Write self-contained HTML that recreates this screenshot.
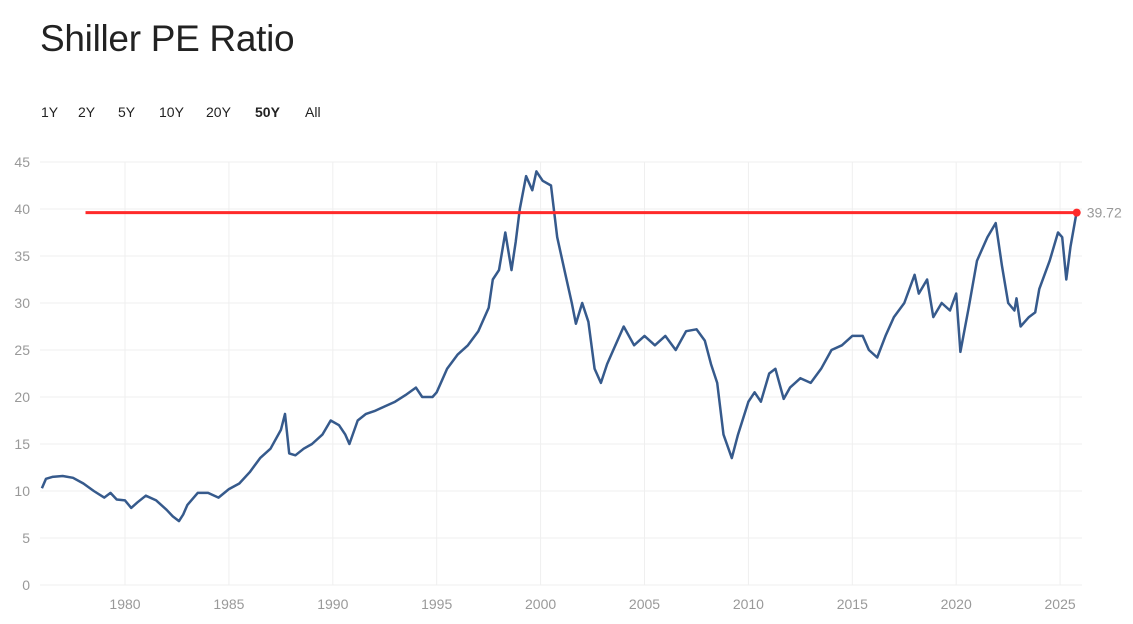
<!DOCTYPE html>
<html><head><meta charset="utf-8">
<style>
body{margin:0;background:#fff;width:1133px;height:624px;overflow:hidden;font-family:"Liberation Sans",sans-serif;}
#title{position:absolute;left:40px;top:18px;font-size:37px;color:#222;letter-spacing:-0.3px;}
#ranges{position:absolute;left:41px;top:104px;font-size:14px;color:#222;}
#ranges span{position:absolute;top:0;cursor:pointer;white-space:nowrap}
#ranges .act{font-weight:bold}
svg{position:absolute;left:0;top:0}
</style></head><body>
<div id="title">Shiller PE Ratio</div>
<div id="ranges">
<span style="left:0">1Y</span><span style="left:37px">2Y</span><span style="left:77px">5Y</span><span style="left:118px">10Y</span><span style="left:165px">20Y</span><span class="act" style="left:214px">50Y</span><span style="left:264px">All</span>
</div>
<svg id="chart" width="1133" height="624"></svg>
<script>
const years=[1976.0,1976.2,1976.5,1977,1977.5,1978,1978.5,1979,1979.3,1979.6,1980,1980.3,1980.6,1981,1981.5,1982,1982.3,1982.6,1982.8,1983,1983.5,1984,1984.5,1985,1985.5,1986,1986.5,1987,1987.5,1987.7,1987.9,1988.2,1988.6,1989,1989.5,1989.9,1990.3,1990.6,1990.8,1991.2,1991.6,1992,1992.5,1993,1993.5,1994,1994.3,1994.8,1995,1995.5,1996,1996.5,1997,1997.5,1997.7,1998,1998.3,1998.6,1998.8,1999,1999.3,1999.6,1999.8,2000.1,2000.5,2000.8,2001.2,2001.5,2001.7,2002,2002.3,2002.6,2002.9,2003.2,2003.5,2004,2004.5,2005,2005.5,2006,2006.5,2007,2007.5,2007.9,2008.2,2008.5,2008.8,2009.2,2009.5,2010,2010.3,2010.6,2011,2011.3,2011.7,2012,2012.5,2013,2013.5,2014,2014.5,2015,2015.5,2015.8,2016.2,2016.6,2017,2017.5,2018,2018.2,2018.6,2018.9,2019.3,2019.7,2020,2020.2,2020.6,2021,2021.5,2021.9,2022.2,2022.5,2022.8,2022.9,2023.1,2023.5,2023.8,2024,2024.5,2024.9,2025.1,2025.3,2025.5,2025.8];
const values=[10.3,11.3,11.5,11.6,11.4,10.8,10.0,9.3,9.8,9.1,9.0,8.2,8.8,9.5,9.0,8.0,7.3,6.8,7.5,8.5,9.8,9.8,9.3,10.2,10.8,12.0,13.5,14.5,16.5,18.2,14.0,13.8,14.5,15.0,16.0,17.5,17.0,16.0,15.0,17.5,18.2,18.5,19.0,19.5,20.2,21.0,20.0,20.0,20.5,23,24.5,25.5,27,29.5,32.5,33.5,37.5,33.5,36.5,40,43.5,42,44,43,42.5,37,33,30,27.8,30,28,23,21.5,23.5,25,27.5,25.5,26.5,25.5,26.5,25,27,27.2,26,23.5,21.5,16,13.5,16,19.5,20.5,19.5,22.5,23,19.8,21,22,21.5,23,25,25.5,26.5,26.5,25,24.2,26.5,28.5,30,33,31,32.5,28.5,30,29.2,31,24.8,29.5,34.5,37,38.5,34,30,29.2,30.5,27.5,28.5,29,31.5,34.5,37.5,37,32.5,36,39.72];
const yTicks=[0,5,10,15,20,25,30,35,40,45];
const xTicks=[1980,1985,1990,1995,2000,2005,2010,2015,2020,2025];
const currentValue=39.72;
const refStartYear=1978.1;

const svg=document.getElementById('chart');
const NS='http://www.w3.org/2000/svg';
const X=y=>125+(y-1980)*20.78;
const Y=v=>585-v*9.4;
function mk(t,a){const e=document.createElementNS(NS,t);for(const k in a)e.setAttribute(k,a[k]);svg.appendChild(e);return e;}
yTicks.forEach(t=>{
  const l=mk('line',{x1:40,x2:1082,y1:Y(t),y2:Y(t),stroke:'#efefef','stroke-width':1});
  
  
  const tx=mk('text',{x:30,y:Y(t)+5,'text-anchor':'end','font-size':14,fill:'#999'});
  tx.textContent=t;
  
  
});
xTicks.forEach(t=>{
  const l=mk('line',{x1:X(t),x2:X(t),y1:Y(45),y2:Y(0),stroke:'#efefef','stroke-width':1});
  
  
  const tx=mk('text',{x:X(t),y:609,'text-anchor':'middle','font-size':14,fill:'#999'});
  tx.textContent=t;
  
  
});
const d=years.map((y,i)=>(i?'L':'M')+X(y).toFixed(1)+','+Y(values[i]).toFixed(1)).join('');
const p=mk('path',{d:d,fill:'none',stroke:'#365a8c','stroke-width':2.5,'stroke-linejoin':'round'});


const lastX=X(years[years.length-1]);
const r=mk('line',{x1:X(refStartYear),x2:lastX,y1:Y(currentValue)+1,y2:Y(currentValue)+1,stroke:'#ff2a2a','stroke-width':3});


const c=mk('circle',{cx:lastX,cy:Y(currentValue)+1,r:4,fill:'#ff2a2a'});


const lt=mk('text',{x:lastX+10,y:Y(currentValue)+6,'font-size':14,fill:'#999'});
lt.textContent=currentValue.toFixed(2);


</script>
</body></html>
